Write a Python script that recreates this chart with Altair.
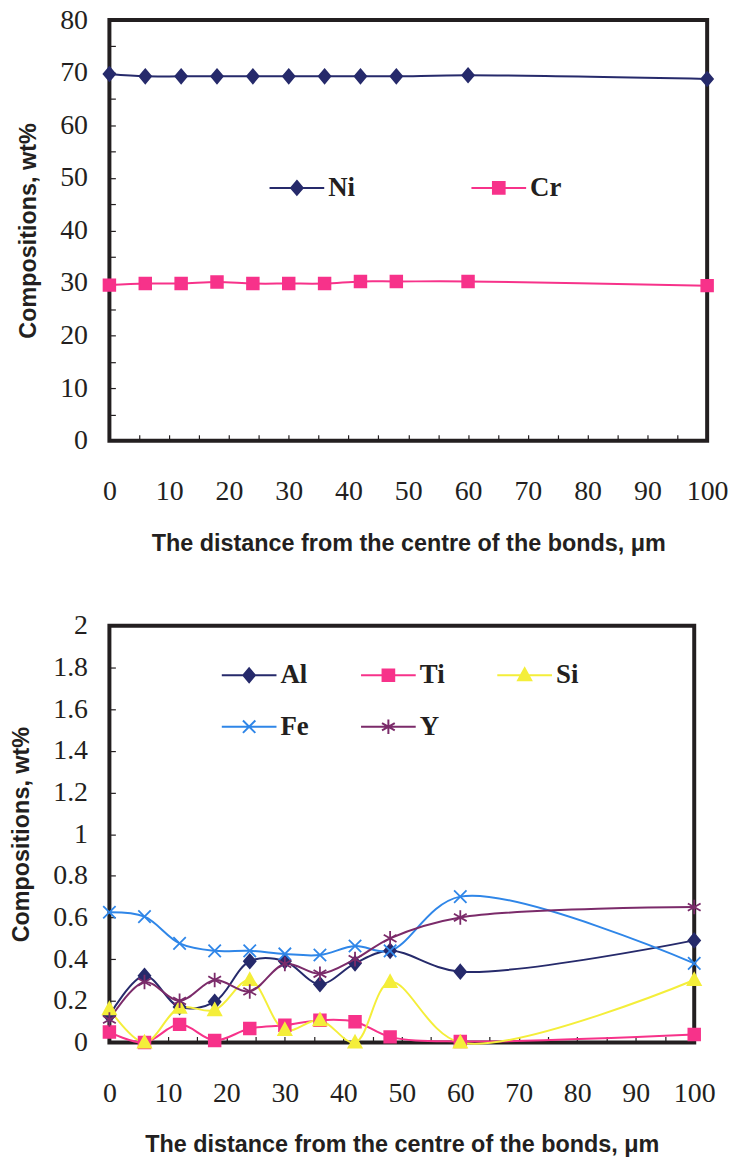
import altair as alt
import pandas as pd

# ---------------- data ----------------
distance = [0, 6, 12, 18, 24, 30, 36, 42, 48, 60, 100]

top_elements = ["Ni", "Cr"]
ni = [69.75, 69.3, 69.3, 69.3, 69.3, 69.3, 69.3, 69.3, 69.3, 69.5, 68.8]
cr = [29.6, 29.9, 29.9, 30.2, 29.9, 29.9, 29.9, 30.3, 30.3, 30.3, 29.5]

bottom_elements = ["Al", "Ti", "Si", "Fe", "Y"]
al = [0.13, 0.32, 0.17, 0.195, 0.39, 0.39, 0.28, 0.38, 0.44, 0.34, 0.49]
ti = [0.05, 0.0, 0.087, 0.01, 0.067, 0.083, 0.107, 0.10, 0.027, 0.005, 0.038]
si = [0.16, 0.0, 0.167, 0.155, 0.30, 0.06, 0.107, 0.0, 0.29, 0.0, 0.30]
fe = [0.625, 0.604, 0.476, 0.44, 0.44, 0.425, 0.42, 0.463, 0.44, 0.70, 0.38]
yt = [0.11, 0.29, 0.20, 0.30, 0.245, 0.377, 0.33, 0.40, 0.50, 0.60, 0.65]

x_labels = [0, 10, 20, 30, 40, 50, 60, 70, 80, 90, 100]
x_ticks = [0, 5, 10, 15, 20, 25, 30, 35, 40, 45, 50, 55, 60, 65, 70, 75, 80, 85, 90, 95, 100]
top_y_labels = [0, 10, 20, 30, 40, 50, 60, 70, 80]
top_y_ticks = [0, 5, 10, 15, 20, 25, 30, 35, 40, 45, 50, 55, 60, 65, 70, 75, 80]
bot_y_labels = [0, 0.2, 0.4, 0.6, 0.8, 1.0, 1.2, 1.4, 1.6, 1.8, 2.0]

x_title = "The distance from the centre of the bonds, \u03bcm"
y_title = "Compositions, wt%"

# ---------------- styles ----------------
NAVY = "#262a6b"
PINK = "#f7328a"
YELLOW = "#f4ee3a"
BLUE = "#2f86e8"
PURPLE = "#7b2b6a"
INK = "#231f20"

DIAMOND = "M0,-0.38L0.32,0L0,0.38L-0.32,0Z"
SQUARE = "M-0.32,-0.32H0.32V0.32H-0.32Z"
TRIANGLE = "M0,-0.38L0.36,0.28H-0.36Z"
CROSS = "M-0.34,-0.34L0.34,0.34M-0.34,0.34L0.34,-0.34"
STAR = "M0,-0.4V0.4M-0.35,-0.2L0.35,0.2M-0.35,0.2L0.35,-0.2"
SEG = "M-1.5,0H1.5"
SZ = 1344
LABEL_EXPR = "'' + datum.value"


def long_df(names, series):
    rows = []
    for name, vals in zip(names, series):
        for d, v in zip(distance, vals):
            rows.append({"distance": d, "value": v, "element": name})
    return pd.DataFrame(rows)


def panel(df, order, colors, markers, ymax, y_labels, y_ticks, w, h, legend):
    xs = alt.Scale(domain=[0, 100], nice=False, zero=False)
    ys = alt.Scale(domain=[0, ymax], nice=False, zero=True)
    base = alt.Chart(df)

    lines = base.mark_line(interpolate="catmull-rom", strokeWidth=2).encode(
        x=alt.X("distance:Q", scale=xs, title=x_title,
                axis=alt.Axis(orient="bottom", values=x_labels, ticks=False, tickSize=0,
                              domain=False, labelPadding=37, titlePadding=26,
                              labelExpr=LABEL_EXPR, labelFlush=False)),
        y=alt.Y("value:Q", scale=ys, title=y_title,
                axis=alt.Axis(orient="left", values=y_labels, ticks=False, tickSize=0,
                              domain=False, labelPadding=22, titlePadding=19,
                              labelExpr=LABEL_EXPR, labelFlush=False)),
        color=alt.Color("element:N", scale=alt.Scale(domain=order, range=colors), legend=None),
    )

    points = base.mark_point(filled=True, size=SZ, strokeWidth=1.8, opacity=1).encode(
        x=alt.X("distance:Q", scale=xs, title=None,
                axis=alt.Axis(orient="top", offset=-h, values=x_ticks, labels=False,
                              domain=False, ticks=True, tickSize=6, tickWidth=1.2,
                              tickColor=INK)),
        y=alt.Y("value:Q", scale=ys, title=None,
                axis=alt.Axis(orient="right", offset=-w, values=y_ticks, labels=False,
                              domain=False, ticks=True, tickSize=6, tickWidth=1.2,
                              tickColor=INK)),
        shape=alt.Shape("element:N", scale=alt.Scale(domain=order, range=markers), legend=None),
        fill=alt.Fill("element:N", scale=alt.Scale(domain=order, range=colors), legend=None),
        stroke=alt.Stroke("element:N", scale=alt.Scale(domain=order, range=colors), legend=None),
    )

    key_paths = [SEG + m for m in markers]
    key = base.transform_filter("false").mark_point(
        filled=True, size=SZ, strokeWidth=2, opacity=1
    ).encode(
        x=alt.X("distance:Q", scale=xs, axis=None),
        y=alt.Y("value:Q", scale=ys, axis=None),
        shape=alt.Shape("element:N", scale=alt.Scale(domain=order, range=key_paths), legend=legend),
        fill=alt.Fill("element:N", scale=alt.Scale(domain=order, range=colors), legend=legend),
        stroke=alt.Stroke("element:N", scale=alt.Scale(domain=order, range=colors), legend=legend),
    )

    return alt.layer(lines, points, key).resolve_scale(
        color="independent", fill="independent", stroke="independent", shape="independent"
    ).resolve_axis(x="independent", y="independent").properties(width=w, height=h)


def make_legend(lx, ly, cols, colpad):
    return alt.Legend(
        orient="none", legendX=lx, legendY=ly, direction="horizontal", columns=cols,
        title=None, padding=0, symbolSize=SZ, symbolStrokeWidth=2,
        labelFont="Liberation Serif", labelFontSize=27, labelFontWeight="bold",
        labelColor=INK, labelOffset=12, columnPadding=colpad, rowPadding=19,
        labelLimit=200,
    )


top_df = long_df(top_elements, [ni, cr])
bot_df = long_df(bottom_elements, [al, ti, si, fe, yt])

top = panel(top_df, top_elements, [NAVY, PINK], [DIAMOND, SQUARE],
            80, top_y_labels, top_y_ticks, 601, 423,
            make_legend(169, 149, 2, 113))

bottom = panel(bot_df, bottom_elements, [NAVY, PINK, YELLOW, BLUE, PURPLE],
               [DIAMOND, SQUARE, TRIANGLE, CROSS, STAR],
               2, bot_y_labels, bot_y_labels, 588, 419,
               make_legend(121, 30, 3, 48))

chart = alt.vconcat(top, bottom, spacing=53).properties(
    padding={"left": 8, "top": 1, "right": 5, "bottom": 3}
).configure_view(
    stroke=INK, strokeWidth=4
).configure_axis(
    grid=False,
    labelFont="Liberation Serif", labelFontSize=28, labelColor=INK,
    titleFont="Liberation Sans", titleFontSize=23.5, titleFontWeight="bold", titleColor=INK,
)

chart.save("out.html", embed_options={"renderer": "svg", "actions": False})
